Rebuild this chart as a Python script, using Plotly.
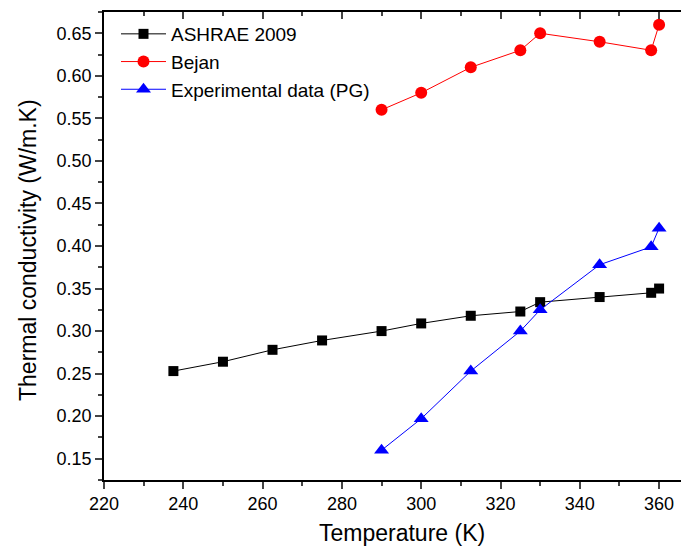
import plotly.graph_objects as go

ashrae_T = [237.5, 250, 262.5, 275, 290, 300, 312.5, 325, 330, 345, 358, 360]
ashrae_k = [0.253, 0.264, 0.278, 0.289, 0.300, 0.309, 0.318, 0.323, 0.334, 0.340, 0.345, 0.350]

bejan_T = [290, 300, 312.5, 325, 330, 345, 358, 360]
bejan_k = [0.56, 0.58, 0.61, 0.63, 0.65, 0.64, 0.63, 0.66]

exp_T = [290, 300, 312.5, 325, 330, 345, 358, 360]
exp_k = [0.160, 0.197, 0.253, 0.300, 0.325, 0.378, 0.399, 0.421]

x_ticks = [220, 240, 260, 280, 300, 320, 340, 360]
y_ticks = [0.15, 0.20, 0.25, 0.30, 0.35, 0.40, 0.45, 0.50, 0.55, 0.60, 0.65]

font = "Liberation Sans, Arial, sans-serif"

fig = go.Figure()
fig.add_trace(go.Scatter(x=ashrae_T, y=ashrae_k, name="ASHRAE 2009", mode="lines+markers",
                         line=dict(color="black", width=1),
                         marker=dict(symbol="square", size=10, color="black")))
fig.add_trace(go.Scatter(x=bejan_T, y=bejan_k, name="Bejan", mode="lines+markers",
                         line=dict(color="red", width=1),
                         marker=dict(symbol="circle", size=12, color="red")))
fig.add_trace(go.Scatter(x=exp_T, y=exp_k, name="Experimental data (PG)", mode="lines+markers",
                         line=dict(color="blue", width=1),
                         marker=dict(symbol="triangle-up", size=13, color="blue")))
fig.add_trace(go.Scatter(x=[], y=[], xaxis="x2", showlegend=False, hoverinfo="skip"))

# page offset of the figure inside the browser body (default 8px margin)
OFF = 8
W, H = 689, 549
L, T, B, R = 104 - OFF, 12 - OFF, H + OFF - 480, 0
pw, ph = W - L - R, H - T - B
px_per_unit = 79.3 / 20
xr = [220, 220 + pw / px_per_unit]

def to_paper(px, py):
    return (px - OFF - L) / pw, (H - B - (py - OFF)) / ph

tx, ty = to_paper(402, 533)
yx, yy = to_paper(28, 250)
lx, ly = to_paper(116, 15)

fig.update_layout(
    width=W, height=H,
    margin=dict(l=L, r=R, t=T, b=B),
    paper_bgcolor="white", plot_bgcolor="white",
    font=dict(family=font, color="black"),
    showlegend=True,
    legend=dict(x=lx, y=ly, xanchor="left", yanchor="top",
                bgcolor="rgba(0,0,0,0)", font=dict(size=19), itemwidth=45,
                tracegroupgap=0),
    xaxis=dict(range=xr, tickvals=x_ticks, ticks="outside", ticklen=7, tickwidth=1.5,
               showline=True, linecolor="black", linewidth=1.5, showgrid=False, zeroline=False,
               tickfont=dict(size=18), automargin=False,
               minor=dict(ticks="outside", ticklen=4, dtick=10, tick0=220, tickwidth=1.5, showgrid=False)),
    xaxis2=dict(range=xr, overlaying="x", side="top", tickvals=x_ticks, ticks="inside", ticklen=7,
                tickwidth=1.5, showline=True, linecolor="black", linewidth=1.5, showgrid=False,
                zeroline=False, showticklabels=False, automargin=False,
                minor=dict(ticks="inside", ticklen=4, dtick=10, tick0=220, tickwidth=1.5, showgrid=False)),
    yaxis=dict(range=[0.125, 0.675], tickvals=y_ticks, tickformat=".2f", ticks="outside", ticklen=7,
               tickwidth=1.5, showline=True, linecolor="black", linewidth=1.5, showgrid=False,
               zeroline=False, tickfont=dict(size=18), automargin=False,
               minor=dict(ticks="outside", ticklen=4, dtick=0.025, tick0=0.125, tickwidth=1.5, showgrid=False)),
    annotations=[
        dict(text="Temperature (K)", x=tx, y=ty, xref="paper", yref="paper", showarrow=False,
             xanchor="center", yanchor="middle", font=dict(size=23)),
        dict(text="Thermal conductivity (W/m.K)", x=yx, y=yy, xref="paper", yref="paper",
             showarrow=False, textangle=-90, xanchor="center", yanchor="middle", font=dict(size=23)),
    ],
)

fig.write_html("out.html")
